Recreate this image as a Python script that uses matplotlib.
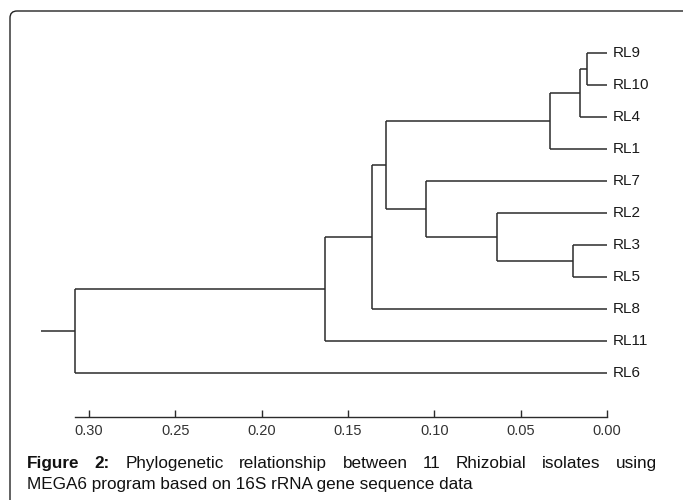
import matplotlib
matplotlib.use("Agg")
import matplotlib.pyplot as plt
from matplotlib.patches import FancyBboxPatch
from matplotlib.ticker import FormatStrFormatter

# leaves, top to bottom
leaves = ["RL9", "RL10", "RL4", "RL1", "RL7", "RL2", "RL3", "RL5", "RL8", "RL11", "RL6"]

# internal nodes (merge order) and branch heights (distance)
node_ids = ["a", "b", "c", "d", "e", "f", "g", "h", "i", "j"]
child_1 = ["RL9", "a", "b", "RL3", "RL2", "RL7", "c", "g", "h", "i"]
child_2 = ["RL10", "RL4", "RL1", "RL5", "d", "e", "f", "RL8", "RL11", "RL6"]
node_height = [0.0116, 0.0156, 0.033, 0.0197, 0.0637, 0.1048, 0.128, 0.136, 0.163, 0.308]
root_stub = 0.328

scale_ticks = [0.30, 0.25, 0.20, 0.15, 0.10, 0.05, 0.00]

caption_1 = ["Figure", "2:", "Phylogenetic", "relationship", "between", "11",
             "Rhizobial", "isolates", "using"]
caption_bold = 2
caption_2 = "MEGA6 program based on 16S rRNA gene sequence data"

W, H = 683, 500
fig = plt.figure(figsize=(W / 100, H / 100), dpi=100)
plt.rcParams["font.family"] = ["Liberation Sans", "DejaVu Sans"]

# overlay in pixel units for frame + caption
ov = fig.add_axes([0, 0, 1, 1], zorder=0)
ov.set_xlim(0, W)
ov.set_ylim(H, 0)
ov.axis("off")
ov.add_patch(FancyBboxPatch((10, 11), 720, 560, boxstyle="round,pad=0,rounding_size=7",
                            fc="white", ec="#222222", lw=1.0))

# tree axes: pixel 20..660 horizontally, 30..445 vertically
px_per_unit = 1727.0
x0_px = 607.0
left_px, right_px = 20, 660
top_px, bot_px = 30, 445
ax = fig.add_axes([left_px / W, 1 - bot_px / H, (right_px - left_px) / W, (bot_px - top_px) / H],
                  zorder=1)
ax.patch.set_alpha(0)
ax.set_xlim((x0_px - left_px) / px_per_unit, (x0_px - right_px) / px_per_unit)
ax.set_ylim((bot_px - 53) / 32.0, (top_px - 53) / 32.0)

ypos = {name: i for i, name in enumerate(leaves)}
xpos = {name: 0.0 for name in leaves}
lc = "#2b2b2b"
lw = 1.1
for nid, c1, c2, h in zip(node_ids, child_1, child_2, node_height):
    y1, y2 = ypos[c1], ypos[c2]
    ax.vlines(h, y1, y2, color=lc, lw=lw)
    ax.hlines(y1, xpos[c1], h, color=lc, lw=lw)
    ax.hlines(y2, xpos[c2], h, color=lc, lw=lw)
    ypos[nid] = (y1 + y2) / 2
    xpos[nid] = h
ax.hlines(ypos[node_ids[-1]], node_height[-1], root_stub, color=lc, lw=lw)

for name in leaves:
    ax.annotate(name, (0, ypos[name]), xytext=(6, 0), textcoords="offset pixels",
                va="center", ha="left", fontsize=11, color="#1a1a1a")

# scale bar on the bottom spine
for s in ["top", "left", "right"]:
    ax.spines[s].set_visible(False)
ax.spines["bottom"].set_position(("data", (417 - 53) / 32.0))
ax.spines["bottom"].set_bounds(0, node_height[-1])
ax.spines["bottom"].set_color(lc)
ax.spines["bottom"].set_linewidth(1.0)
ax.set_xticks(scale_ticks)
ax.xaxis.set_major_formatter(FormatStrFormatter("%.2f"))
ax.tick_params(axis="x", direction="in", length=5, width=1.0, color=lc,
               labelsize=10.5, labelcolor="#333333", pad=5)
ax.set_yticks([])

# caption, first line justified
fig.canvas.draw()
r = fig.canvas.get_renderer()
cap_x0, cap_x1, cap_y1, cap_y2 = 27, 657, 468, 489
cap_size = 12.3
texts = []
for k, w in enumerate(caption_1):
    t = ov.text(0, cap_y1, w, fontsize=cap_size, va="baseline", ha="left", color="#111111",
                fontweight="bold" if k < caption_bold else "normal")
    texts.append(t)
widths = [t.get_window_extent(r).width for t in texts]
gap = (cap_x1 - cap_x0 - sum(widths)) / (len(texts) - 1)
x = cap_x0
for t, wd in zip(texts, widths):
    t.set_x(x)
    x += wd + gap
ov.text(cap_x0, cap_y2, caption_2, fontsize=cap_size, va="baseline", ha="left", color="#111111")

fig.savefig("out.png", dpi=100)
